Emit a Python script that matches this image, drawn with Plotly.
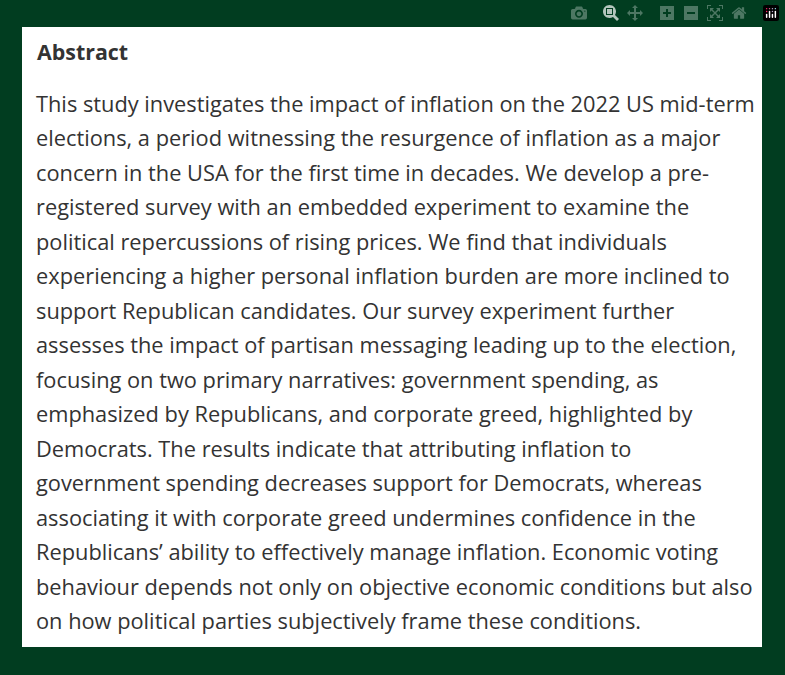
import plotly.graph_objects as go

W, H = 785, 675

title = "Abstract"
lines = [
    "This study investigates the impact of inflation on the 2022 US mid-term",
    "elections, a period witnessing the resurgence of inflation as a major",
    "concern in the USA for the first time in decades. We develop a pre-",
    "registered survey with an embedded experiment to examine the",
    "political repercussions of rising prices. We find that individuals",
    "experiencing a higher personal inflation burden are more inclined to",
    "support Republican candidates. Our survey experiment further",
    "assesses the impact of partisan messaging leading up to the election,",
    "focusing on two primary narratives: government spending, as",
    "emphasized by Republicans, and corporate greed, highlighted by",
    "Democrats. The results indicate that attributing inflation to",
    "government spending decreases support for Democrats, whereas",
    "associating it with corporate greed undermines confidence in the",
    "Republicans\u2019 ability to effectively manage inflation. Economic voting",
    "behaviour depends not only on objective economic conditions but also",
    "on how political parties subjectively frame these conditions.",
]

fig = go.Figure()

# white card
fig.add_shape(type="rect", xref="paper", yref="paper",
              x0=22 / W, x1=762 / W, y0=1 - 647 / H, y1=1 - 27 / H,
              fillcolor="white", line_width=0, layer="below")

font = "Open Sans, Noto Sans, sans-serif"
fig.add_annotation(x=35 / W, y=1 - 52 / H, xref="paper", yref="paper",
                   text="<b>" + title + "</b>", showarrow=False,
                   xanchor="left", yanchor="middle",
                   font=dict(family=font, size=21.4, color="#333333"))

for i, ln in enumerate(lines):
    y_px = 103 + i * 34.5
    fig.add_annotation(x=34 / W, y=1 - y_px / H, xref="paper", yref="paper",
                       text=ln, showarrow=False,
                       xanchor="left", yanchor="middle",
                       font=dict(family=font, size=21.8, color="#333333"))

fig.update_layout(width=W, height=H, margin=dict(l=0, r=0, t=0, b=0),
                  paper_bgcolor="#013d20", plot_bgcolor="#013d20",
                  xaxis=dict(visible=False), yaxis=dict(visible=False))

fig.write_html("out.html",
               post_script="document.body.style.margin='0';"
                           "document.body.style.background='#013d20';")
